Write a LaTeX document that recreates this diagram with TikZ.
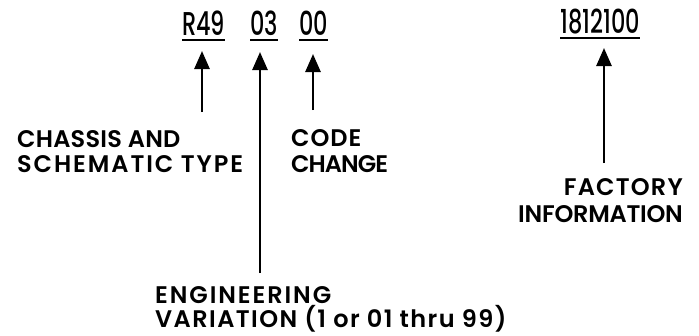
\documentclass[tikz,border=0pt]{standalone}
\usepackage{fontspec}
\setmainfont{Poppins}
\newfontfamily\numfont{Poppins Medium}[FakeStretch=0.68]
\newfontfamily\labfont{Poppins SemiBold}
\newcommand\ls[1]{\addfontfeatures{LetterSpace=#1}}
\usetikzlibrary{arrows.meta}
\begin{document}
\begin{tikzpicture}[x=1pt,y=-1pt,
  lab/.style={font=\labfont\fontsize{24}{26}\selectfont, inner sep=0pt},
  num/.style={font=\numfont\fontsize{33}{33}\selectfont, inner sep=0pt, anchor=base west},
  uline/.style={line width=2.2pt},
  arr/.style={line width=2.6pt, -{Triangle[width=15pt,length=18pt]}}]
\useasboundingbox (0,0) rectangle (699,335);
% numbers
\node[num] (r49) at (182,35) {R49};
\node[num] (n03) at (250,35) {03};
\node[num] (n00) at (299,35) {00};
\node[num] (fac) at (560,33) {1812100};
\foreach \n in {r49,n03,n00,fac}
  \draw[uline] ([yshift=-5pt]\n.base west) -- ([yshift=-5pt]\n.base east);
% labels
\node[lab, anchor=base west] (ch1) at (17,147) {\ls{1}CHASSIS AND};
\node[lab, anchor=base west] (ch2) at (17,172) {\ls{8}SCHEMATIC TYPE};
\node[lab, anchor=base west] (cc1) at (291,146) {\ls{4}CODE};
\node[lab, anchor=base west] (cc2) at (291,172) {\ls{-4}CHANGE};
\node[lab, anchor=base east] (fi1) at (683,195) {\ls{5}FACTORY};
\node[lab, anchor=base east] (fi2) at (683,222) {\ls{-1}INFORMATION};
\node[lab, anchor=base west] (ev1) at (155,303) {\ls{8}ENGINEERING};
\node[lab, anchor=base west] (ev2) at (155,327) {\ls{6}VARIATION (1 or 01 thru 99)};
% arrows
\coordinate (t1) at (202,112);
\coordinate (t2) at (260,273);
\coordinate (t3) at (313,110);
\coordinate (t4) at (604,163);
\draw[arr] (t1) -- ([yshift=-16pt]r49.base -| t1);
\draw[arr] (t2) -- ([yshift=-17pt]n03.base -| t2);
\draw[arr] (t3) -- ([yshift=-19pt]n00.base -| t3);
\draw[arr] (t4) -- ([yshift=-15pt]fac.base -| t4);
\end{tikzpicture}
\end{document}
